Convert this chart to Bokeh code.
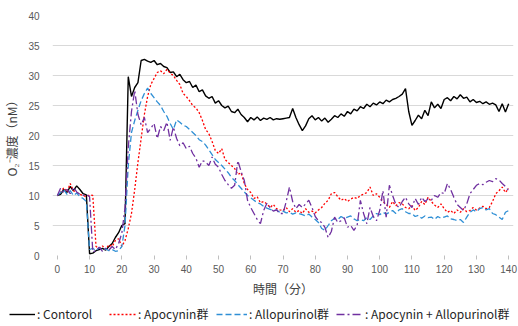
from bokeh.plotting import figure
from bokeh.models import Range1d, FixedTicker, Legend, LegendItem
from bokeh.layouts import column
from bokeh.embed import file_html
from bokeh.resources import INLINE

minutes = list(range(0, 141))

control = [
    10.0, 10.2, 11.0, 10.5, 11.5, 10.8, 11.6, 11.0, 10.3, 10.1,
    0.3, 0.4, 0.8, 1.0, 1.2, 0.9, 1.5, 2.0, 3.0, 3.8,
    5.0, 5.3, 29.8, 26.5, 28.0, 28.8, 32.5, 32.7, 32.4, 32.2,
    32.5, 31.8, 32.0, 31.5, 31.3, 30.5, 30.6, 29.8, 30.2, 29.3,
    28.8, 29.0, 28.0, 28.4, 27.3, 27.6, 26.6, 26.2, 26.5, 25.4,
    25.8, 25.0, 24.6, 24.9, 24.0, 23.8, 24.4, 23.5, 23.0, 22.3,
    23.0, 22.6, 23.1, 22.5, 22.9, 22.7, 23.0, 22.6, 22.8, 22.7,
    22.8, 22.9, 23.0, 24.5, 23.0, 21.8, 20.8, 21.6, 22.8, 23.3,
    22.6, 23.0, 22.4, 22.9, 22.2, 22.7, 23.3, 23.0, 23.6, 23.2,
    24.0, 23.6, 24.4, 24.1, 24.8, 24.5, 25.2, 24.8, 25.4, 25.1,
    25.6, 25.3, 25.9, 25.6, 26.0, 26.2, 26.5, 26.9, 27.8, 24.0,
    21.7, 22.5, 23.4, 22.8, 24.2, 23.3, 25.6, 24.6, 25.2, 24.5,
    26.0, 26.3, 25.8, 26.5, 26.1, 26.8, 26.2, 26.4, 25.6, 26.0,
    25.5, 25.7, 25.3, 25.6, 25.2, 25.4, 25.1, 24.0, 25.3, 23.9,
    25.3,
]

apocynin = [
    10.0, 10.5, 11.3, 10.6, 12.0, 10.8, 10.5, 10.2, 10.0, 9.8,
    10.1, 10.0, 1.5, 1.2, 1.6, 1.0, 1.8, 1.5, 2.5, 2.8,
    1.5, 2.5, 4.5, 7.0, 11.0, 15.5, 19.5, 23.5, 26.5, 28.5,
    29.5, 30.5, 30.8, 30.3, 31.0, 30.4, 30.0, 29.2, 28.5, 27.0,
    26.5, 25.8, 25.0, 24.6, 23.8, 22.5, 21.0, 20.3, 19.0, 17.5,
    17.0, 17.8, 16.0, 15.5, 15.0, 14.5, 13.5, 13.8, 12.0, 11.0,
    10.5, 9.5, 9.8, 8.8, 9.0, 8.6, 8.0, 8.5, 7.8, 7.6,
    7.5, 8.0, 7.3, 7.8, 7.2, 7.5, 7.0, 7.8, 7.2, 7.4,
    7.1, 7.6, 8.0, 8.7, 9.2, 10.3, 10.5, 9.8, 9.2, 9.5,
    9.0, 9.4, 9.7, 9.5, 10.0, 10.2, 10.5, 11.4, 10.0, 10.3,
    9.7, 9.0, 8.5, 8.0, 9.0, 8.3, 8.8, 8.6, 8.0, 7.8,
    8.3, 7.5, 8.0, 9.0, 8.5, 9.7, 9.0, 8.4, 8.0, 8.6,
    7.8, 7.2, 7.5, 7.0, 7.6, 7.2, 7.8, 7.3, 7.5, 8.0,
    7.6, 7.9, 8.2, 7.8, 8.0, 9.0, 10.3, 10.8, 11.4, 10.5,
    11.2,
]

allopurinol = [
    10.0, 10.5, 11.0, 10.2, 10.8, 10.0, 10.4, 9.8, 9.5, 9.0,
    1.0, 1.2, 0.8, 1.3, 0.9, 1.1, 0.8, 1.0, 0.7, 0.8,
    1.5, 5.0, 15.0, 20.5, 22.5, 24.2, 25.8, 27.0, 27.9, 27.0,
    26.3, 25.6, 25.0, 24.0, 23.2, 22.0, 21.0, 22.6, 22.2, 21.7,
    21.5, 21.0, 20.5, 20.0, 19.3, 19.0, 18.4, 17.6, 16.8, 16.0,
    15.5, 15.0, 14.4, 13.8, 13.0, 12.5, 11.8, 11.2, 10.6, 10.0,
    9.6, 9.2, 8.8, 8.6, 8.2, 7.9, 7.7, 7.5, 7.6, 7.2,
    7.4, 7.1, 7.2, 6.9, 7.1, 7.0, 6.8, 6.6, 6.9, 6.4,
    6.0, 5.5, 4.5, 4.2, 5.0, 5.8, 6.2, 6.0, 6.5, 6.2,
    6.4, 6.6, 6.1, 5.8, 6.0, 5.8, 6.3, 6.0, 6.6, 7.0,
    6.8, 7.2, 6.9, 7.2, 7.5, 7.0, 7.6, 7.8, 7.3, 7.0,
    7.0, 6.5, 6.7, 6.2, 6.6, 6.3, 6.4, 6.0, 6.5, 6.2,
    6.4, 6.6, 6.1, 6.0, 5.8, 6.0, 5.5, 6.4, 7.2, 7.6,
    7.3, 7.8, 8.0, 7.6, 7.8, 7.0, 6.8, 6.4, 6.0, 7.2,
    7.5,
]

combined = [
    10.0, 11.2, 10.5, 11.0, 10.3, 11.4, 10.6, 10.2, 10.0, 10.2,
    9.8, 0.6, 0.8, 1.4, 0.7, 1.2, 0.9, 1.5, 1.0, 2.0,
    3.7, 8.0, 18.0, 24.0, 27.5, 23.5, 21.8, 23.0, 20.5, 21.2,
    22.0, 19.5, 21.5, 20.8, 22.2, 19.2, 21.4, 19.5, 18.3, 18.8,
    17.8, 18.2, 17.0, 16.2, 14.7, 15.8, 15.6, 15.0, 16.4, 15.2,
    14.7, 13.5, 12.5, 11.8, 11.2, 11.7, 15.8, 14.0, 12.5, 9.2,
    8.0, 7.0, 6.0, 5.3, 7.5, 8.7, 8.0, 7.4, 7.6, 7.0,
    7.0, 9.0, 11.4, 9.0, 7.8, 8.5, 8.0, 8.6, 9.2, 8.0,
    6.5, 5.8, 5.5, 4.7, 3.0, 4.0, 6.4, 5.5, 5.8, 6.3,
    4.7, 5.0, 4.2, 5.0, 9.2, 7.0, 5.3, 8.0, 6.5, 5.8,
    7.5, 10.8, 6.4, 11.7, 10.0, 8.5, 8.0, 9.0, 9.7, 8.6,
    8.0, 9.5, 8.5, 9.7, 9.0, 9.4, 9.2, 10.0, 9.7, 10.5,
    10.3, 12.0, 11.0, 9.7, 8.5, 8.0, 7.5, 8.6, 10.3, 11.0,
    11.7, 12.0, 11.8, 12.2, 12.5, 12.3, 12.8, 12.6, 12.0, 11.5,
    10.8,
]

x_ticks = [0, 10, 20, 30, 40, 50, 60, 70, 80, 90, 100, 110, 120, 130, 140]
y_ticks = [0, 5, 10, 15, 20, 25, 30, 35, 40]
grid_lines = [5, 10, 15, 20, 25, 30, 35]
series_labels = [": Contorol", ": Apocynin群", ": Allopurinol群", ": Apocynin + Allopurinol群"]
series_values = [control, apocynin, allopurinol, combined]

JP = "Noto Sans CJK JP"
styles = [
    dict(line_color="black", line_width=1.4),
    dict(line_color="#ff0000", line_width=1.3, line_dash="2 2"),
    dict(line_color="#2f8fd5", line_width=1.3, line_dash="6 3"),
    dict(line_color="#7030a0", line_width=1.3, line_dash="8 3 2 3"),
]
# legend item placement (pixels from the left of the strip) and sample widths
legend_x = [9, 109, 216, 336]
legend_glyph_w = [26, 27, 31, 27]

p = figure(width=518, height=300, output_backend="svg", toolbar_location=None,
           x_range=Range1d(-1.5, 141.5), y_range=Range1d(0, 40),
           min_border_left=50, min_border_right=5, min_border_top=15, min_border_bottom=45)
p.frame_align = False
p.outline_line_color = None
p.background_fill_color = "white"
p.border_fill_color = "white"

p.xgrid.visible = False
p.ygrid.ticker = FixedTicker(ticks=grid_lines)
p.ygrid.grid_line_color = "#d9d9d9"
p.ygrid.grid_line_width = 1

for ys, st in zip(series_values, styles):
    p.line(minutes, ys, **st)

xa = p.xaxis[0]
xa.ticker = FixedTicker(ticks=x_ticks)
xa.axis_line_color = None
xa.major_tick_line_color = "#bfbfbf"
xa.major_tick_out = 4
xa.major_tick_in = 0
xa.minor_tick_line_color = None
xa.major_label_text_font = "Liberation Sans"
xa.major_label_text_font_size = "10px"
xa.major_label_text_color = "#595959"
xa.major_label_standoff = 5
xa.axis_label = "時間（分）"
xa.axis_label_text_font = JP
xa.axis_label_text_font_size = "12px"
xa.axis_label_text_font_style = "normal"
xa.axis_label_text_color = "#404040"
xa.axis_label_standoff = 4

ya = p.yaxis[0]
ya.ticker = FixedTicker(ticks=y_ticks)
ya.axis_line_color = None
ya.major_tick_line_color = None
ya.minor_tick_line_color = None
ya.major_label_text_font = "Liberation Sans"
ya.major_label_text_font_size = "10px"
ya.major_label_text_color = "#595959"
ya.major_label_standoff = 7
ya.axis_label = "O₂⁻濃度（nM）"
ya.axis_label_text_font = JP
ya.axis_label_text_font_size = "12px"
ya.axis_label_text_font_style = "normal"
ya.axis_label_text_color = "#404040"
ya.axis_label_standoff = 5

# legend strip under the chart: same series, viewed outside their value range
lg = figure(width=518, height=26, output_backend="svg", toolbar_location=None,
            x_range=Range1d(0, 140), y_range=Range1d(100, 101),
            min_border_left=0, min_border_right=0, min_border_top=0, min_border_bottom=0)
lg.frame_align = False
lg.axis.visible = False
lg.grid.visible = False
lg.outline_line_color = None
lg.border_fill_color = "white"
lg.background_fill_color = "white"
for lab, ys, st, lx, gw in zip(series_labels, series_values, styles, legend_x, legend_glyph_w):
    r = lg.line(minutes, ys, **st)
    leg = Legend(items=[LegendItem(label=lab, renderers=[r])], location=(lx, 4))
    leg.glyph_width = gw
    leg.glyph_height = 10
    leg.label_standoff = 2
    leg.padding = 0
    leg.margin = 0
    leg.border_line_color = None
    leg.background_fill_alpha = 0
    leg.label_text_font = JP
    leg.label_text_font_size = "12px"
    leg.label_text_color = "#262626"
    leg.label_height = 12
    lg.add_layout(leg, "center")

layout = column(p, lg, spacing=0)
open("out.html", "w").write(file_html(layout, INLINE))
